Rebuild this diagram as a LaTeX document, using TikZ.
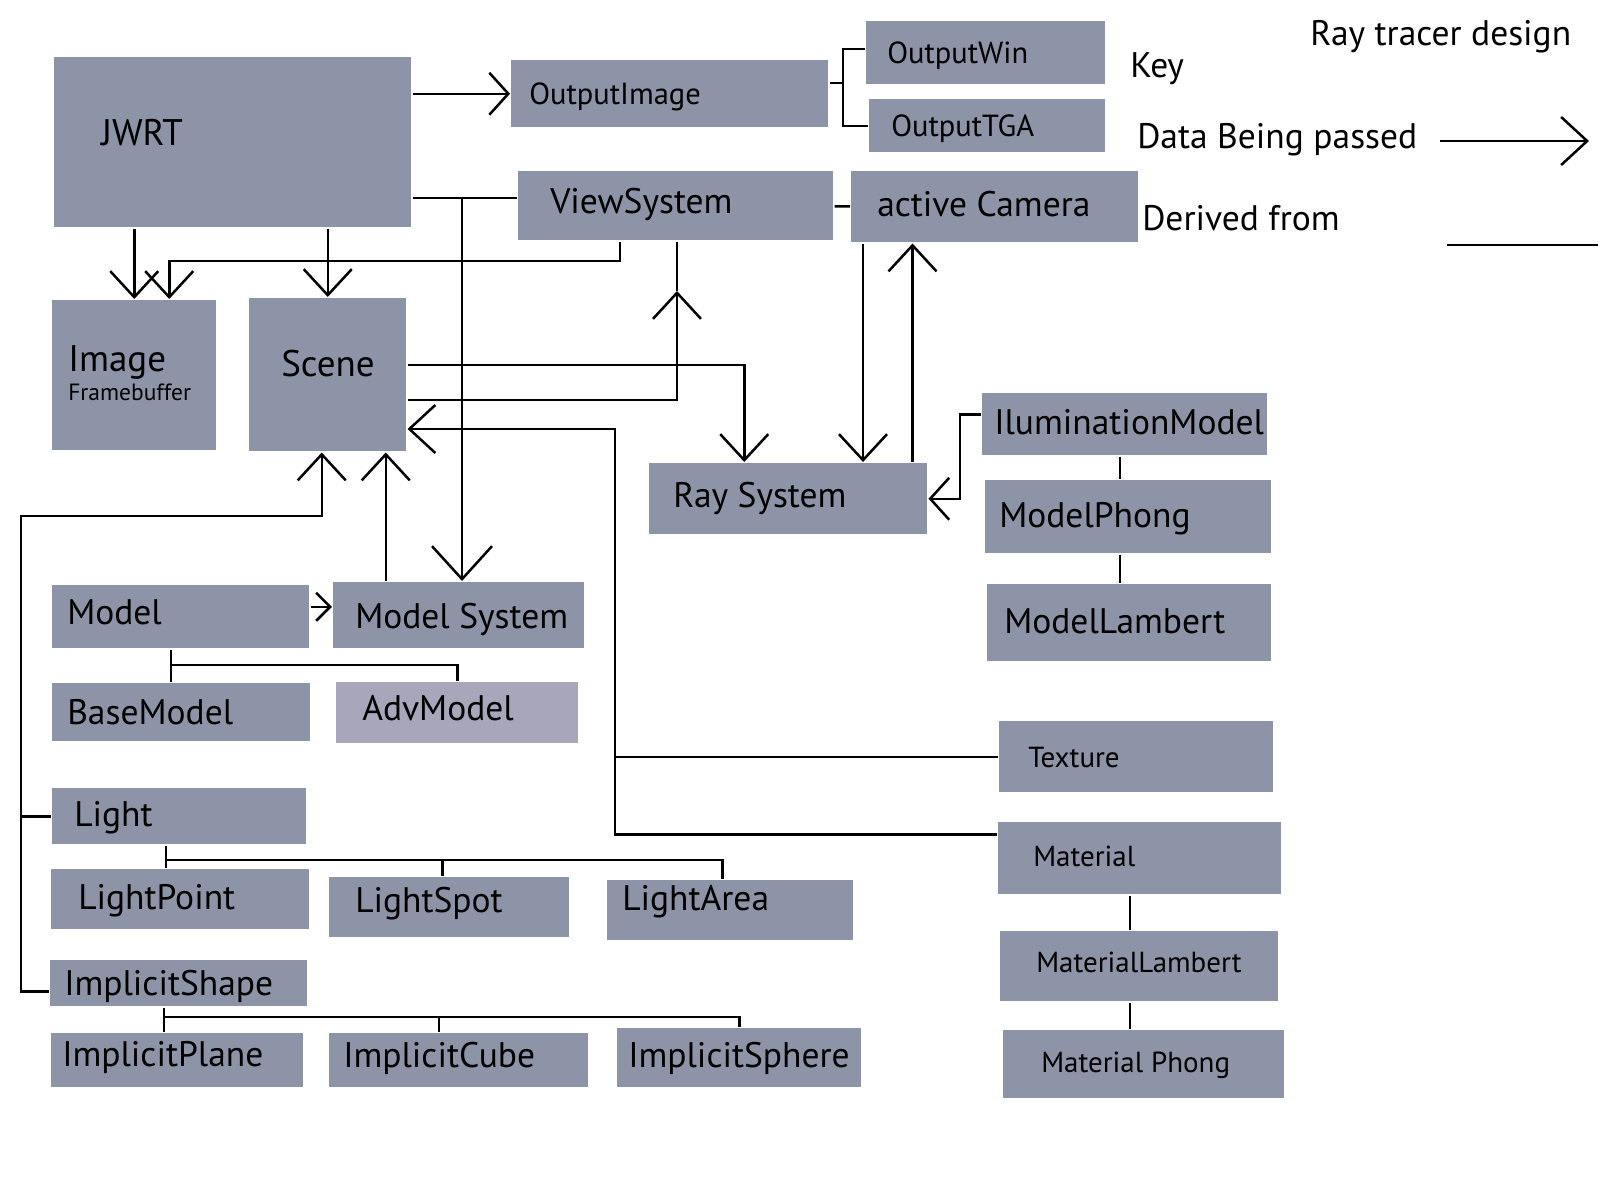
\documentclass[tikz,border=0pt]{standalone}
\usepackage{fontspec}
\setmainfont{PT Sans}
\usetikzlibrary{arrows.meta}
\definecolor{boxgray}{RGB}{142,148,168}
\definecolor{advgray}{RGB}{168,166,186}
\tikzset{
  box/.style={fill=boxgray, inner sep=0pt, anchor=north west},
  txt/.style={anchor=mid west, inner sep=0pt, yshift=-8pt, font=\fontsize{35.5}{40}\selectfont},
  txtbig/.style={txt, font=\fontsize{37}{42}\selectfont},
  txtmid/.style={txt, font=\fontsize{30.5}{35}\selectfont},
  txtmat/.style={txt, font=\fontsize{29}{34}\selectfont},
  txtsmall/.style={txt, font=\fontsize{23.5}{28}\selectfont},
  passed/.style={-{Straight Barb[length=26pt, width=48pt]}},
  passedmid/.style={-{Straight Barb[length=19pt, width=42pt]}},
  passedtiny/.style={-{Straight Barb[length=14pt, width=28pt]}},
  passedbig/.style={-{Straight Barb[length=33pt, width=60pt]}},
}
\begin{document}
\begin{tikzpicture}[x=1pt, y=-1pt, line width=2.5pt]
\useasboundingbox (0,0) rectangle (1600,1200);

% top row
\node[box, minimum width=357pt, minimum height=170pt, label={[txtbig, xshift=47pt, yshift=7pt]west:JWRT}] (jwrt) at (53,56) {};
\node[box, minimum width=317pt, minimum height=67pt, label={[txtmid, xshift=18pt]west:OutputImage}] (outimg) at (510,59) {};
\node[box, minimum width=239pt, minimum height=63pt, label={[txtmid, xshift=21pt]west:OutputWin}] (outwin) at (865,20) {};
\node[box, minimum width=236pt, minimum height=53pt, label={[txtmid, xshift=22pt]west:OutputTGA}] (outtga) at (868,98) {};
\node[box, minimum width=315pt, minimum height=69pt, label={[txt, xshift=32pt, yshift=3pt]west:ViewSystem}] (viewsys) at (517,170) {};
\node[box, minimum width=287pt, minimum height=71pt, label={[txt, xshift=26pt, yshift=1pt]west:active Camera}] (camera) at (850,170) {};

% scene, image, rays
\node[box, minimum width=164pt, minimum height=150pt, label={[txtbig, xshift=16pt, yshift=14pt]west:Image}, label={[txtsmall, xshift=16pt, yshift=-15pt]west:Framebuffer}] (image) at (51,299) {};
\node[box, minimum width=157pt, minimum height=153pt, label={[txtbig, xshift=32pt, yshift=9pt]west:Scene}] (scene) at (248,297) {};
\node[box, minimum width=278pt, minimum height=71pt, label={[txt, xshift=24pt, yshift=2pt]west:Ray System}] (raysys) at (648,462) {};
\node[box, minimum width=285pt, minimum height=62pt, label={[txt, xshift=12pt]west:IluminationModel}] (illum) at (981,392) {};
\node[box, minimum width=286pt, minimum height=73pt, label={[txt, xshift=14pt]west:ModelPhong}] (mphong) at (984,479) {};
\node[box, minimum width=284pt, minimum height=77pt, label={[txt, xshift=17pt]west:ModelLambert}] (mlambert) at (986,583) {};
\node[box, minimum width=274pt, minimum height=71pt, label={[txtmat, xshift=29pt]west:Texture}] (texture) at (998,720) {};
\node[box, minimum width=283pt, minimum height=72pt, label={[txtmat, xshift=35pt, yshift=2pt]west:Material}] (material) at (997,821) {};
\node[box, minimum width=278pt, minimum height=70pt, label={[txtmat, xshift=36pt, yshift=4pt]west:MaterialLambert}] (matlambert) at (999,930) {};
\node[box, minimum width=281pt, minimum height=68pt, label={[txtmat, xshift=38pt, yshift=2pt]west:Material Phong}] (matphong) at (1002,1029) {};

% models, lights, shapes
\node[box, minimum width=257pt, minimum height=63pt, label={[txt, xshift=15pt, yshift=3pt]west:Model}] (model) at (51,584) {};
\node[box, minimum width=251pt, minimum height=66pt, label={[txt, xshift=22pt, yshift=-3pt]west:Model System}] (modelsys) at (332,581) {};
\node[box, minimum width=258pt, minimum height=58pt, label={[txt, xshift=15pt, yshift=-2pt]west:BaseModel}] (basemodel) at (51,682) {};
\node[box, fill=advgray, minimum width=242pt, minimum height=61pt, label={[txt, xshift=26pt, yshift=3pt]west:AdvModel}] (advmodel) at (335,681) {};
\node[box, minimum width=254pt, minimum height=56pt, label={[txt, xshift=22pt]west:Light}] (light) at (51,787) {};
\node[box, minimum width=258pt, minimum height=60pt, label={[txt, xshift=27pt]west:LightPoint}] (lightpoint) at (50,868) {};
\node[box, minimum width=240pt, minimum height=60pt, label={[txt, xshift=26pt, yshift=5pt]west:LightSpot}] (lightspot) at (328,876) {};
\node[box, minimum width=246pt, minimum height=60pt, label={[txt, xshift=15pt, yshift=10pt]west:LightArea}] (lightarea) at (606,879) {};
\node[box, minimum width=257pt, minimum height=46pt, label={[txt, xshift=14pt, yshift=-2pt]west:ImplicitShape}] (ishape) at (49,959) {};
\node[box, minimum width=252pt, minimum height=54pt, label={[txt, xshift=11pt, yshift=4pt]west:ImplicitPlane}] (iplane) at (50,1032) {};
\node[box, minimum width=259pt, minimum height=54pt, label={[txt, xshift=14pt, yshift=3pt]west:ImplicitCube}] (icube) at (328,1032) {};
\node[box, minimum width=244pt, minimum height=59pt, label={[txt, xshift=11pt, yshift=1pt]west:ImplicitSphere}] (isphere) at (616,1027) {};

% key
\node[txt] (title) at (1309,35) {Ray tracer design};
\node[txt] (key) at (1129,67) {Key};
\node[txt] (datalbl) at (1136,138) {Data Being passed};
\node[txt] (derlbl) at (1141,220) {Derived from};
\coordinate (ka) at (1440,141);
\coordinate (kb) at (1589,141);
\coordinate (kc) at (1447,245);
\coordinate (kd) at (1598,245);
\draw[passed] (ka) -- (kb);
\draw (kc) -- (kd);

% jwrt outputs
\draw[passedmid] (jwrt.east |- outimg.west) -- (outimg.west);
\coordinate (bk) at (843,83);
\draw (outimg.east |- bk) -- (bk);
\draw ([yshift=4pt]outwin.west) -| (bk |- outtga.west) -- (outtga.west);

% view system
\coordinate (vj) at (462,198);
\draw (viewsys.west |- vj) -- (jwrt.east |- vj);
\draw[passedbig] (vj) -- (vj |- modelsys.north);
\draw (viewsys) -- (camera);
\draw[passed] (jwrt.south -| image.north) -- (image.north);
\draw[passed] (jwrt.south -| scene.north) -- (scene.north);
\coordinate (vi) at (620,261);
\draw[passed] (vi |- viewsys.south) -- (vi) -| ([xshift=35pt]image.north);

% scene to view and rays
\coordinate (sv) at (677,291);
\draw[passed] ([yshift=-25pt]scene.east) -| (sv);
\draw (sv) -- (sv |- viewsys.south);
\draw[passed] ([yshift=10pt]scene.east) -| ([xshift=-44pt]raysys.north);
\coordinate (tm) at (615,429);
\draw[passed] ([yshift=24pt]material.west) -| (tm) -- (tm -| scene.east);
\draw (texture.west) -- (tm |- texture.west);

% camera and ray system
\draw[passed] ([xshift=13pt]camera.south west) -- ([xshift=13pt]camera.south west |- raysys.north);
\draw[passed] ([xshift=-16pt]raysys.north east) -- ([xshift=-16pt]raysys.north east |- camera.south);
\draw[passedmid] ([yshift=10pt]illum.west) -- ++(-21,0) |- (raysys.east);
\draw ([xshift=-5pt]illum.south) -- ([xshift=-5pt]illum.south |- mphong.north);
\draw ([xshift=-5pt]illum.south |- mphong.south) -- ([xshift=-5pt]illum.south |- mlambert.north);
\draw ([xshift=-10pt]material.south) -- ([xshift=-10pt]material.south |- matlambert.north);
\draw ([xshift=-10pt]material.south |- matlambert.south) -- ([xshift=-10pt]material.south |- matphong.north);

% model system
\draw[passedtiny] ([yshift=10pt]model.east) -- ([yshift=10pt]model.east -| modelsys.west);
\draw[passed] ([xshift=-73pt]modelsys.north) -- ([xshift=-73pt]modelsys.north |- scene.south);
\coordinate (mb) at (171,665);
\draw (mb |- model.south) -- (mb |- basemodel.north);
\draw (mb) -| (advmodel.north);

% left bus into scene
\coordinate (lb) at (21,516);
\draw[passed] ([yshift=-8pt]ishape.west) -| (lb) -| ([xshift=-6pt]scene.south);
\draw (light.west) -- (lb |- light.west);

% lights
\coordinate (lc) at (166,860);
\draw (lc |- light.south) -- (lc |- lightpoint.north);
\draw (lc) -| ([xshift=-8pt]lightarea.north);
\draw ([xshift=-7pt]lightspot.north) -- ([xshift=-7pt]lightspot.north |- lc);

% implicit shapes
\coordinate (ic) at (164,1017);
\draw (ic |- ishape.south) -- (ic |- iplane.north);
\draw (ic) -| (isphere.north);
\draw ([xshift=-20pt]icube.north) -- ([xshift=-20pt]icube.north |- ic);
\end{tikzpicture}
\end{document}
